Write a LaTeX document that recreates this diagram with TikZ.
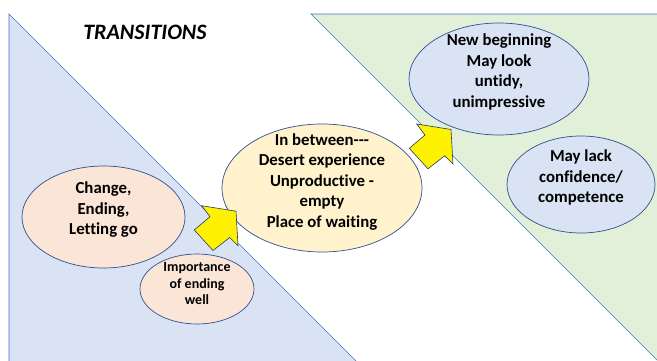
\documentclass[tikz,border=0pt]{standalone}
\usepackage{fontspec}
\setmainfont{Carlito}[Ligatures={TeX,NoCommon}]
\usetikzlibrary{shapes.geometric}
\definecolor{edgeblue}{HTML}{2F528F}
\definecolor{sideblue}{HTML}{4472C4}
\definecolor{paleblue}{HTML}{DAE3F3}
\definecolor{palegreen}{HTML}{E2F0D9}
\definecolor{palepeach}{HTML}{FBE5D6}
\definecolor{paleyellow}{HTML}{FFF2CC}
\begin{document}
\begin{tikzpicture}[x=1pt,y=-1pt,
  bubble/.style={ellipse,draw=edgeblue,line width=0.7pt,fill=#1,inner sep=0pt},
  bigtxt/.style={align=center,inner sep=0pt,font=\fontsize{16.8}{20.5}\selectfont\bfseries},
  smalltxt/.style={align=center,inner sep=0pt,font=\fontsize{14}{16.5}\selectfont\bfseries},
  blockarrow/.style={fill=yellow,draw=edgeblue!70!black,line width=0.6pt,line join=miter}]
\useasboundingbox (0,0) rectangle (657,361);
\clip (0,0) rectangle (657,361);
\draw[fill=paleblue,draw=sideblue,line width=0.7pt] (9,14) -- (9,400) -- (395,400) -- cycle;
\draw[fill=palegreen,draw=sideblue,line width=0.7pt] (311,14) -- (680,14) -- (680,383) -- cycle;
\node[font=\fontsize{22}{26}\selectfont\bfseries\itshape] (title) at (145,32) {TRANSITIONS};
\node[bubble=palepeach,minimum width=163,minimum height=102] (ending) at (103.5,217) {};
\node[bigtxt] (endingtxt) at ([yshift=7]ending.center) {Change,\\Ending,\\Letting go};
\node[bubble=palepeach,minimum width=114,minimum height=70] (well) at (197,289) {};
\node[smalltxt] (welltxt) at ([yshift=5]well.center) {Importance\\of ending\\well};
\node[bubble=paleyellow,minimum width=200,minimum height=128] (between) at (322,188) {};
\node[bigtxt] (betweentxt) at ([yshift=6]between.center) {In between-{}-{}-\\Desert experience\\Unproductive -\\empty\\Place of waiting};
\node[bubble=paleblue,minimum width=180,minimum height=112] (newbeg) at (499,79) {};
\node[bigtxt] (newbegtxt) at ([yshift=7]newbeg.center) {New beginning\\May look\\untidy,\\unimpressive};
\node[bubble=paleblue,minimum width=148,minimum height=97] (lack) at (581,184.5) {};
\node[bigtxt] (lacktxt) at ([yshift=7]lack.center) {May lack\\confidence/\\competence};
\foreach \ax/\ay in {201.7/205.7,416.7/124}
  \draw[blockarrow,shift={(\ax,\ay)}] (0,0) -- (34.3,5.5) -- (36.3,40) -- (28,31.8) -- (11.3,44.8) -- (-7.4,24.3) -- (8.3,11) -- cycle;
\end{tikzpicture}
\end{document}
